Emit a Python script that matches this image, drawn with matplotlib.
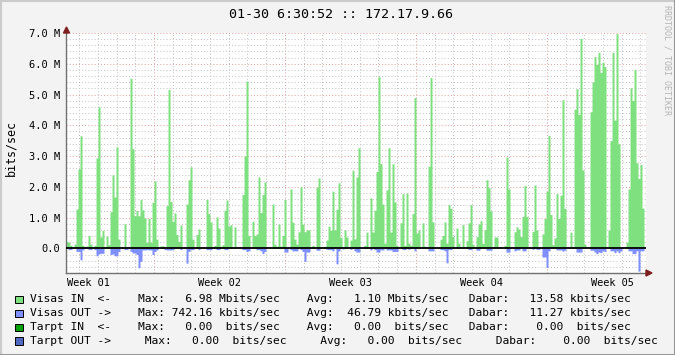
import numpy as np
import matplotlib
matplotlib.use("Agg")
import matplotlib.pyplot as plt
from matplotlib.patches import Rectangle, Polygon
from matplotlib.lines import Line2D
from matplotlib.ticker import FuncFormatter, MultipleLocator, FixedLocator
import matplotlib.transforms as mtransforms

# ---------------- data (Mbits/sec, one value per ~2.57 h step) ----------------
visas_in = [
    0.23, 0.2, 0.1, 0, 0.14, 1.28, 2.58, 3.66, 0.1, 0,
    0.08, 0.42, 0.14, 0.05, 0.1, 2.94, 4.6, 0.37, 0.58, 0.05,
    0.4, 0.12, 1.19, 2.39, 1.67, 3.3, 0.3, 0, 0, 0.8,
    0, 0, 5.53, 3.24, 1.06, 1.23, 1.06, 1.59, 1.25, 0.99,
    0.2, 0.97, 0.2, 1.5, 2.19, 0.3, 0, 0.08, 0.08, 0,
    1.39, 5.16, 1.52, 0.88, 1.15, 0.45, 0.23, 0.76, 0, 0,
    1.44, 2.23, 2.65, 0.3, 0, 0.45, 0.63, 0, 0, 0,
    1.59, 1.13, 0.86, 0, 0.1, 1.02, 0.66, 0.07, 0.12, 1.24,
    1.57, 0.72, 0.77, 0, 0.7, 0, 0, 0, 1.75, 3.0,
    5.44, 0.42, 0, 0.88, 0.42, 0.47, 2.32, 1.16, 1.75, 2.16,
    0, 0, 0, 1.44, 0.14, 0.07, 0.79, 0.07, 0.42, 1.59,
    0, 0, 1.93, 0.85, 0.3, 0.14, 0.54, 2.0, 0.79, 0.54,
    0.6, 0.6, 0, 0.1, 0, 1.99, 2.29, 0, 0, 0.07,
    0.27, 0.72, 0.59, 1.86, 0.6, 1.27, 2.13, 0.36, 0, 0.6,
    0.37, 0, 0.27, 2.54, 0.31, 2.32, 3.27, 0, 0, 0.1,
    0.53, 0, 1.64, 0.53, 1.24, 2.5, 5.58, 2.75, 1.44, 0.17,
    1.9, 3.27, 0.53, 2.75, 1.51, 0.1, 0, 0.83, 1.78, 0.1,
    1.8, 0.17, 0.1, 1.13, 4.9, 0.5, 0.6, 0, 0.83, 0.07,
    0.02, 2.67, 5.55, 0.86, 0, 0, 0, 0.3, 0.42, 0.86,
    0.17, 1.42, 1.3, 0.39, 0, 0.66, 0.17, 0, 0.77, 0,
    0.25, 0.83, 1.42, 0.14, 0, 0.38, 0.79, 0.9, 0.16, 0.61,
    2.23, 1.97, 1.22, 0, 0.37, 0.37, 0, 0, 0, 0.1,
    2.97, 1.93, 0, 0, 0.54, 0.7, 0.63, 0.39, 1.04, 2.04,
    1.04, 0, 0.02, 0.55, 2.06, 0.6, 0.05, 0, 0.47, 0.97,
    1.86, 3.67, 1.1, 0.12, 0.34, 1.78, 0.97, 1.73, 4.83, 1.3,
    0, 0, 0.53, 0, 4.52, 5.19, 4.35, 6.82, 2.55, 0.14,
    0, 0, 4.44, 5.41, 6.23, 5.98, 6.37, 5.72, 6.05, 5.91,
    0, 0.6, 3.5, 6.37, 4.17, 6.98, 3.4, 0, 0, 0,
    0.2, 1.93, 5.22, 4.81, 5.81, 2.78, 2.27, 2.73, 1.31, 0,
]
visas_out = [
    0, 0.04, 0.04, 0, 0, 0.1, 0.1, 0.37, 0.05, 0,
    0, 0.04, 0.04, 0, 0.04, 0.24, 0.18, 0.16, 0.16, 0,
    0, 0, 0.2, 0.18, 0.24, 0.24, 0.1, 0, 0, 0.04,
    0.04, 0, 0.1, 0.15, 0.15, 0.2, 0.63, 0.42, 0.05, 0.05,
    0.04, 0.05, 0.05, 0.2, 0.1, 0.05, 0, 0, 0, 0.04,
    0.05, 0.05, 0.05, 0.04, 0, 0, 0, 0.04, 0, 0,
    0.48, 0.1, 0.04, 0.04, 0, 0, 0.04, 0, 0, 0,
    0.04, 0.04, 0.04, 0, 0, 0.04, 0.04, 0, 0, 0.04,
    0.04, 0, 0, 0, 0, 0, 0, 0, 0.04, 0.04,
    0.1, 0.08, 0, 0, 0, 0.04, 0.04, 0.08, 0.17, 0.1,
    0, 0, 0, 0, 0, 0, 0, 0, 0, 0.12,
    0.12, 0, 0.04, 0.08, 0.08, 0.08, 0, 0.04, 0.1, 0.42,
    0.12, 0.12, 0, 0, 0, 0.06, 0.06, 0, 0, 0,
    0.03, 0.04, 0.04, 0.08, 0, 0.5, 0.08, 0, 0.02, 0,
    0, 0, 0.03, 0, 0.08, 0.12, 0.12, 0, 0, 0,
    0, 0, 0.05, 0, 0.04, 0.12, 0.12, 0.05, 0.05, 0,
    0.05, 0.05, 0.05, 0.1, 0.1, 0.1, 0, 0, 0.04, 0.04,
    0, 0.03, 0, 0, 0.08, 0, 0, 0, 0, 0,
    0, 0.08, 0.08, 0.08, 0, 0, 0, 0.04, 0.04, 0.08,
    0.47, 0.04, 0.04, 0, 0, 0, 0, 0, 0, 0,
    0, 0.04, 0.04, 0, 0, 0.06, 0.06, 0, 0, 0,
    0.06, 0.06, 0.06, 0, 0, 0, 0, 0, 0, 0,
    0.12, 0.12, 0, 0, 0.08, 0.05, 0.05, 0, 0.08, 0.08,
    0, 0, 0, 0.03, 0, 0.03, 0.03, 0, 0.28, 0.28,
    0.62, 0.08, 0, 0, 0, 0.05, 0.05, 0.05, 0.09, 0.06,
    0, 0, 0, 0, 0, 0.12, 0.12, 0.12, 0, 0,
    0, 0, 0.06, 0.06, 0.12, 0.17, 0.12, 0.14, 0.08, 0.1,
    0, 0, 0.08, 0.08, 0.14, 0.08, 0.14, 0.08, 0, 0,
    0, 0.08, 0.08, 0.17, 0.17, 0.08, 0.74, 0.08, 0.08, 0,
]
span_days = 31.0                 # width of the time axis
first_week_boundary = 4.70       # days from chart start to start of Week 02
week_labels = ["Week 01", "Week 02", "Week 03", "Week 04", "Week 05"]

title = "01-30 6:30:52 :: 172.17.9.66"
y_label = "bits/sec"
watermark = "RRDTOOL / TOBI OETIKER"

legend_names = ["Visas IN  <-", "Visas OUT ->", "Tarpt IN  <-", "Tarpt OUT ->"]
legend_max = [("6.98", "Mbits/sec"), ("742.16", "kbits/sec"), ("0.00", "bits/sec"), ("0.00", "bits/sec")]
legend_avg = [("1.10", "Mbits/sec"), ("46.79", "kbits/sec"), ("0.00", "bits/sec"), ("0.00", "bits/sec")]
legend_cur = [("13.58", "kbits/sec"), ("11.27", "kbits/sec"), ("0.00", "bits/sec"), ("0.00", "bits/sec")]
legend_colors = ["#7FE07F", "#7F8FFF", "#00A000", "#5068C0"]

# ---------------- figure ----------------
W, H = 675, 355
fig = plt.figure(figsize=(W / 100, H / 100), dpi=100, facecolor="#F3F3F3")
MONO = "DejaVu Sans Mono"

def fx(x):
    return x / W

def fy(y):
    return 1 - y / H

ax = fig.add_axes([fx(66), fy(273), (646 - 66) / W, (273 - 33) / H])
ax.set_facecolor("white")

vin = np.array(visas_in) * 1e6
vout = np.array(visas_out) * 1e6
n = len(vin)
step = span_days / n
edges = np.arange(n + 1) * step

ax.fill_between(edges, np.append(vin, vin[-1]), 0, step="post",
                color=legend_colors[0], linewidth=0, zorder=2)
ax.fill_between(edges, -np.append(vout, vout[-1]), 0, step="post",
                color=legend_colors[1], linewidth=0, zorder=2)
ax.axhline(0, color="black", linewidth=1.3, zorder=3)

ax.set_xlim(0, span_days)
ax.set_ylim(-0.8e6, 7.0e6)

# grid
week_bounds = [first_week_boundary + 7 * i for i in range(-1, 4) if 0 < first_week_boundary + 7 * i < span_days]
day_lines = [first_week_boundary + d for d in range(-5, 27) if 0 < first_week_boundary + d < span_days]
ax.xaxis.set_major_locator(FixedLocator(week_bounds))
ax.xaxis.set_minor_locator(FixedLocator(day_lines))
ax.yaxis.set_major_locator(MultipleLocator(1e6))
ax.yaxis.set_minor_locator(MultipleLocator(0.2e6))
ax.set_axisbelow(True)
ax.grid(which="minor", color="#C8C8C8", linestyle=(0, (1, 2)), linewidth=0.75)
ax.grid(which="major", color="#E0A8A8", linestyle=(0, (1, 2)), linewidth=0.75)
ax.tick_params(which="both", length=0)
ax.tick_params(axis="x", labelbottom=False)
ax.tick_params(axis="y", pad=4.0, labelsize=7.5)

def yfmt(v, pos):
    if abs(v) < 1:
        return "0.0"
    if v < 0:
        return ""
    return f"{v / 1e6:.1f} M"

ax.yaxis.set_major_formatter(FuncFormatter(yfmt))
for lab in ax.get_yticklabels():
    lab.set_fontfamily(MONO)

for s in ["top", "right"]:
    ax.spines[s].set_visible(False)
for s in ["left", "bottom"]:
    ax.spines[s].set_color("#707070")
    ax.spines[s].set_linewidth(1.0)

# week labels centred in each week
trans = mtransforms.blended_transform_factory(ax.transData, ax.transAxes)
for i, lab in enumerate(week_labels):
    mid = first_week_boundary - 3.5 + 7 * i
    ax.text(mid, -9.5 / 240, lab, transform=trans, ha="center", va="center",
            fontsize=7.4, family=MONO, clip_on=False)

# arrows
arrow_c = "#7F1F1F"
fig.patches.append(Polygon([(fx(63.5), fy(33)), (fx(69.5), fy(33)), (fx(66.5), fy(27))],
                           closed=True, color=arrow_c, transform=fig.transFigure))
fig.patches.append(Polygon([(fx(646), fy(270)), (fx(646), fy(276)), (fx(652), fy(273))],
                           closed=True, color=arrow_c, transform=fig.transFigure))

# texts
fig.text(fx(341), fy(14), title, ha="center", va="center", fontsize=9.6, family=MONO)
fig.text(fx(11), fy(148), y_label, ha="center", va="center", rotation=90, fontsize=8.4, family=MONO)
fig.text(fx(666.5), fy(5), watermark, ha="center", va="top", rotation=270,
         fontsize=6.0, family=MONO, color="#B4B4B4")

# legend: fixed character columns (rrdtool-like layout)
def build_row(name, mx, av, cu, shift):
    s0, s1, s2 = shift
    cols = [
        (0, name, "l"),
        (16 + s0, "Max:", "l"), (27 + s0, mx[0], "r"), (37 + s0, mx[1], "r"),
        (41 + s1, "Avg:", "l"), (52 + s1, av[0], "r"), (62 + s1, av[1], "r"),
        (65 + s2, "Dabar:", "l"), (79 + s2, cu[0], "r"), (89 + s2, cu[1], "r"),
    ]
    buf = [" "] * 100
    for c, txt, al in cols:
        start = c if al == "l" else c - len(txt)
        for j, ch in enumerate(txt):
            buf[start + j] = ch
    return "".join(buf).rstrip()

row_shifts = [(0, 0, 0), (0, 0, 0), (0, 0, 0), (1, 2, 4)]
row_y = [299.5, 313.3, 327.3, 341.0]
for i in range(4):
    text = build_row(legend_names[i], legend_max[i], legend_avg[i], legend_cur[i], row_shifts[i])
    y = row_y[i]
    fig.patches.append(Rectangle((fx(15.3), fy(y + 3.8)), 7.6 / W, 7.6 / H,
                                 facecolor=legend_colors[i], edgecolor="black", linewidth=0.7,
                                 transform=fig.transFigure))
    fig.text(fx(30.4), fy(y), text, ha="left", va="center", fontsize=8.15, family=MONO)

# 3D-style frame
fig.lines.append(Line2D([0, 1], [fy(0.5), fy(0.5)], color="#CBCBCB", linewidth=1.5, transform=fig.transFigure))
fig.lines.append(Line2D([fx(0.5), fx(0.5)], [0, 1], color="#CBCBCB", linewidth=1.5, transform=fig.transFigure))
fig.lines.append(Line2D([0, 1], [fy(H - 0.5), fy(H - 0.5)], color="#999999", linewidth=1.5, transform=fig.transFigure))
fig.lines.append(Line2D([fx(W - 0.5), fx(W - 0.5)], [0, 1], color="#999999", linewidth=1.5, transform=fig.transFigure))

fig.savefig("out.png", dpi=100, facecolor=fig.get_facecolor())
